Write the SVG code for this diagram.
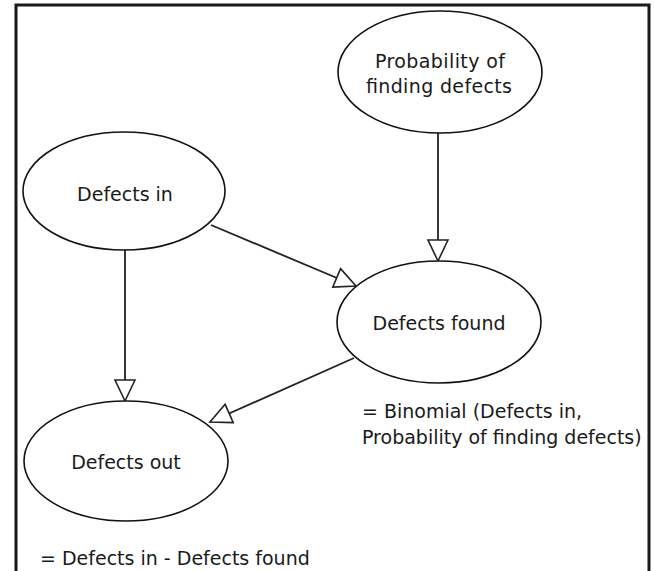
<svg xmlns="http://www.w3.org/2000/svg" width="654" height="571" viewBox="0 0 654 571">
  <style>
    .node ellipse { fill: #ffffff; stroke: #111111; stroke-width: 1.6; }
    .node text, .note { font-family: "DejaVu Sans", "Liberation Sans", sans-serif; font-size: 19px; fill: #1a1a1a; }
    .node text { text-anchor: middle; }
    .conn { stroke: #222222; stroke-width: 1.8; fill: none; marker-end: url(#arrow); }
    .frame { stroke: #1a1a1a; stroke-width: 3; fill: none; }
  </style>
  <defs>
    <marker id="arrow" viewBox="0 0 21 20" refX="21" refY="10" markerWidth="21" markerHeight="20" markerUnits="userSpaceOnUse" orient="auto" overflow="visible">
      <path d="M0,0 L21,10 L0,20 Z" fill="#ffffff" stroke="#222222" stroke-width="1.6" stroke-linejoin="miter"/>
    </marker>
  </defs>
  <rect x="0" y="0" width="654" height="571" fill="#ffffff"/>
  <path class="frame" d="M16,571 L16,5 L649,5 L649,571"/>

  <g id="connectors">
    <line class="conn" x1="438" y1="133" x2="438" y2="261"/>
    <line class="conn" x1="211" y1="225" x2="356" y2="286"/>
    <line class="conn" x1="125" y1="250" x2="125" y2="401"/>
    <line class="conn" x1="354" y1="358" x2="210" y2="422"/>
  </g>

  <g id="node-probability" class="node">
    <ellipse cx="440" cy="72" rx="102" ry="61"/>
    <text x="440" y="68" textLength="130" lengthAdjust="spacing">Probability of</text>
    <text x="439" y="93" textLength="146" lengthAdjust="spacing">finding defects</text>
  </g>

  <g id="node-defects-in" class="node">
    <ellipse cx="124" cy="191" rx="101" ry="59"/>
    <text x="125" y="201">Defects in</text>
  </g>

  <g id="node-defects-found" class="node">
    <ellipse cx="439" cy="322" rx="102" ry="61"/>
    <text x="439" y="330">Defects found</text>
  </g>

  <g id="node-defects-out" class="node">
    <ellipse cx="126" cy="461" rx="102" ry="60"/>
    <text x="126" y="469">Defects out</text>
  </g>

  <g id="annotations">
    <text class="note" x="362" y="418">= Binomial (Defects in,</text>
    <text class="note" x="362" y="444">Probability of finding defects)</text>
    <text class="note" x="40" y="565">= Defects in - Defects found</text>
  </g>
</svg>
